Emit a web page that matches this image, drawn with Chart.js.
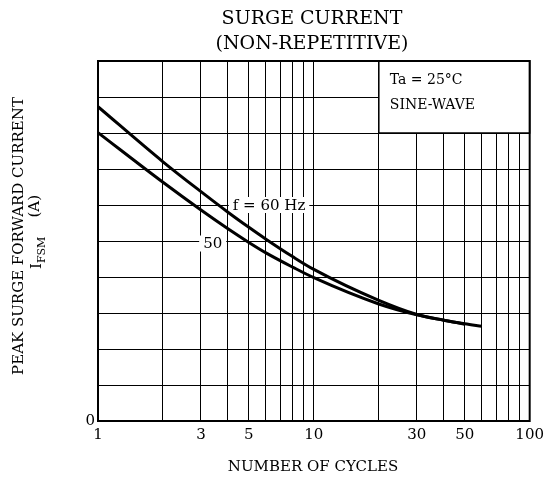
<!DOCTYPE html>
<html><head><meta charset="utf-8">
<script src="https://cdn.jsdelivr.net/npm/chart.js@4/dist/chart.umd.min.js"></script>
<style>html,body{margin:0;padding:0;background:#fff;} #wrap{width:549px;height:482px;}</style>
</head><body><div id="wrap"><canvas id="c" width="549" height="482"></canvas></div>
<script>
// ---- data ----
const cycles60 = [1, 2, 3, 4, 5, 6, 8, 10, 20, 30, 40, 50, 60];
const ifsm60   = [8.73, 7.20, 6.37, 5.80, 5.38, 5.05, 4.56, 4.21, 3.35, 2.96, 2.80, 2.70, 2.63];
const cycles50 = [1, 2, 3, 4, 5, 6, 8, 10, 20, 30, 40, 50];
const ifsm50   = [8.01, 6.63, 5.86, 5.34, 4.96, 4.67, 4.27, 3.98, 3.25, 2.95, 2.80, 2.69];
const xGridValues = [1,2,3,4,5,6,7,8,9,10,20,30,40,50,60,70,80,90,100];
const xTickLabels = [1,3,5,10,30,50,100];
const yGridValues = [0,1,2,3,4,5,6,7,8,9,10];
const yTickLabels = [0];
const seriesNames = ['f = 60 Hz', '50'];
const titleLines = ['SURGE CURRENT', '(NON-REPETITIVE)'];
const xTitle = 'NUMBER OF CYCLES';
const yTitle = 'PEAK SURGE FORWARD CURRENT';
const noteLines = ['Ta = 25°C', 'SINE-WAVE'];

const SERIF = '"DejaVu Serif", "Liberation Serif", serif';

const deco = {
  id: 'deco',
  beforeDatasetsDraw(chart) {
    const {ctx, chartArea: a, scales: {x, y}} = chart;
    ctx.save();
    const bx = x.getPixelForValue(20), by = y.getPixelForValue(8);
    ctx.fillStyle = '#fff';
    ctx.fillRect(bx, a.top, a.right - bx, by - a.top);
    ctx.strokeStyle = '#000'; ctx.lineWidth = 1.5;
    ctx.strokeRect(bx, a.top, a.right - bx, by - a.top);
    ctx.fillStyle = '#000';
    ctx.font = '14px ' + SERIF;
    ctx.textAlign = 'left'; ctx.textBaseline = 'middle';
    ctx.fillText(noteLines[0], bx + 11, y.getPixelForValue(9.45));
    ctx.fillText(noteLines[1], bx + 11, y.getPixelForValue(8.78));
    ctx.font = '15px ' + SERIF;
    ctx.textAlign = 'center';
    const labs = [[seriesNames[0], 6.2, 6.0], [seriesNames[1], 3.4, 4.93]];
    labs.forEach(([t, vx, vy]) => {
      const px = x.getPixelForValue(vx), py = y.getPixelForValue(vy);
      const w = ctx.measureText(t).width;
      ctx.fillStyle = '#fff';
      ctx.fillRect(px - w / 2 - 4, py - 8, w + 8, 16);
      ctx.fillStyle = '#000';
      ctx.fillText(t, px, py + 1);
    });
    ctx.restore();
  },
  afterDraw(chart) {
    const {ctx, chartArea: a} = chart;
    ctx.save();
    ctx.strokeStyle = '#000'; ctx.lineWidth = 2;
    ctx.strokeRect(a.left, a.top, a.right - a.left, a.bottom - a.top);
    ctx.fillStyle = '#000';
    ctx.textAlign = 'center'; ctx.textBaseline = 'alphabetic';
    ctx.font = '19px ' + SERIF;
    ctx.fillText(titleLines[0], 312, 24);
    ctx.fillText(titleLines[1], 312, 49);
    ctx.font = '15px ' + SERIF;
    ctx.fillText(xTitle, 313, 471);
    ctx.save();
    ctx.translate(23, 236);
    ctx.rotate(-Math.PI / 2);
    ctx.textAlign = 'center';
    ctx.font = '15px ' + SERIF;
    ctx.fillText(yTitle, 0, 0);
    ctx.textAlign = 'left';
    const wI = ctx.measureText('I').width;
    ctx.font = '11px ' + SERIF;
    const wS = ctx.measureText('FSM').width;
    ctx.font = '15px ' + SERIF;
    const gap = '    ';
    const wA = ctx.measureText(gap + '(A)').width;
    const tot = wI + wS + wA;
    const sx = -tot / 2 + 4;
    const ly = 18;
    ctx.fillText('I', sx, ly);
    ctx.font = '11px ' + SERIF;
    ctx.fillText('FSM', sx + wI, ly + 4);
    ctx.font = '15px ' + SERIF;
    ctx.fillText(gap + '(A)', sx + wI + wS, ly - 2);
    ctx.restore();
    ctx.restore();
  }
};

new Chart(document.getElementById('c'), {
  type: 'line',
  data: {
    datasets: [
      { label: seriesNames[0], data: cycles60.map((v, i) => ({x: v, y: ifsm60[i]})),
        borderColor: '#000', borderWidth: 3, pointRadius: 0, fill: false, cubicInterpolationMode: 'monotone' },
      { label: seriesNames[1], data: cycles50.map((v, i) => ({x: v, y: ifsm50[i]})),
        borderColor: '#000', borderWidth: 3, pointRadius: 0, fill: false, cubicInterpolationMode: 'monotone' }
    ]
  },
  options: {
    responsive: false, animation: false,
    layout: { padding: { top: 61, right: 19, left: 0, bottom: 0 } },
    plugins: { legend: { display: false }, tooltip: { enabled: false }, title: { display: false } },
    scales: {
      x: {
        type: 'logarithmic', min: 1, max: 100,
        afterBuildTicks: s => { s.ticks = xGridValues.map(v => ({ value: v })); },
        afterFit: s => { s.height = 61; },
        ticks: { autoSkip: false, maxRotation: 0, padding: 5, color: '#000',
          font: { family: SERIF, size: 15 },
          callback: v => xTickLabels.includes(v) ? String(v) : '' },
        grid: { color: '#000', lineWidth: 1, drawTicks: false },
        border: { color: '#000', width: 2 }
      },
      y: {
        type: 'linear', min: 0, max: 10,
        afterBuildTicks: s => { s.ticks = yGridValues.map(v => ({ value: v })); },
        afterFit: s => { s.width = 98; },
        ticks: { autoSkip: false, padding: 3, color: '#000',
          font: { family: SERIF, size: 15 },
          callback: v => yTickLabels.includes(v) ? String(v) : '' },
        grid: { color: '#000', lineWidth: 1, drawTicks: false },
        border: { color: '#000', width: 2 }
      }
    }
  },
  plugins: [deco]
});
</script></body></html>
